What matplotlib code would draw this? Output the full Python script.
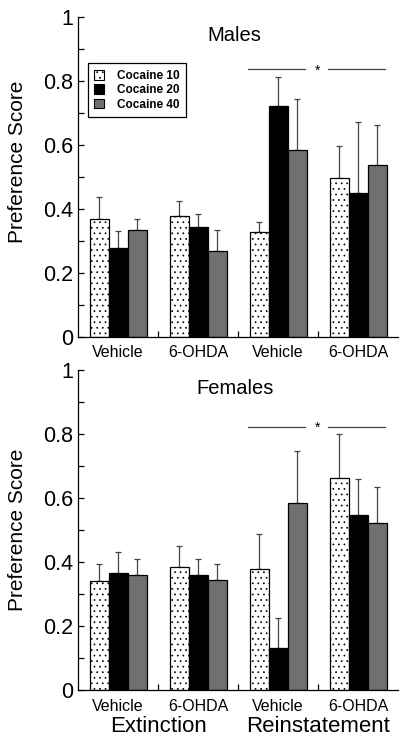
import numpy as np
import matplotlib
matplotlib.use('Agg')
import matplotlib.pyplot as plt
from matplotlib.patches import Patch

plt.rcParams['font.family'] = ['Liberation Sans', 'DejaVu Sans']
plt.rcParams['hatch.linewidth'] = 0.5
plt.rcParams['hatch.color'] = '#555555'

groups = ['Vehicle', '6-OHDA', 'Vehicle', '6-OHDA']
series = ['Cocaine 10', 'Cocaine 20', 'Cocaine 40']

# males: mean and top of error bar
males_c10 = [0.37, 0.377, 0.329, 0.498]
males_c20 = [0.279, 0.344, 0.721, 0.45]
males_c40 = [0.333, 0.269, 0.585, 0.536]
males_c10_top = [0.438, 0.424, 0.359, 0.597]
males_c20_top = [0.33, 0.385, 0.812, 0.672]
males_c40_top = [0.37, 0.333, 0.744, 0.661]

# females
females_c10 = [0.34, 0.385, 0.378, 0.663]
females_c20 = [0.367, 0.358, 0.132, 0.548]
females_c40 = [0.358, 0.344, 0.586, 0.521]
females_c10_top = [0.394, 0.45, 0.488, 0.799]
females_c20_top = [0.431, 0.411, 0.224, 0.659]
females_c40_top = [0.411, 0.393, 0.746, 0.633]

phases = ['Extinction', 'Reinstatement']

gray = '#707070'
styles = [dict(color='white', hatch='...'),
          dict(color='black'),
          dict(color=gray)]


def panel(ax, means, tops, title, sig_y, label_y):
    x = np.arange(len(groups))
    w = 0.2375
    for i, (m, t) in enumerate(zip(means, tops)):
        pos = x + (i - 1) * w
        m = np.array(m)
        t = np.array(t)
        ax.bar(pos, m, w, edgecolor='black', linewidth=0.9, zorder=2, **styles[i])
        ax.errorbar(pos, t, yerr=[t - m, np.zeros_like(t)], fmt='none',
                    ecolor='#444444', elinewidth=0.9, capsize=2.2,
                    capthick=0.9, zorder=1)
    ax.set_xlim(-0.5, 3.5)
    ax.set_ylim(0, 1)
    ax.set_yticks([0, 0.2, 0.4, 0.6, 0.8, 1])
    ax.set_yticklabels(['0', '0.2', '0.4', '0.6', '0.8', '1'])
    ax.set_yticks(np.arange(0.1, 1.0, 0.2), minor=True)
    ax.tick_params(axis='y', which='both', direction='in', length=4,
                   labelsize=15.5, width=0.9)
    ax.set_xticks([0.5, 1.5, 2.5])
    ax.set_xticklabels([])
    ax.tick_params(axis='x', direction='in', length=4, width=0.9)
    for gx, g in zip(x, groups):
        ax.text(gx, -0.05, g, ha='center', va='center', fontsize=11.5,
                transform=ax.get_xaxis_transform())
    ax.spines['top'].set_visible(False)
    ax.spines['right'].set_visible(False)
    ax.spines['left'].set_linewidth(0.9)
    ax.spines['bottom'].set_linewidth(0.9)
    ax.set_ylabel('Preference Score', fontsize=15, va='center')
    ax.yaxis.set_label_coords(-0.19, label_y)
    ax.text(1.46, 0.943, title, ha='center', va='center', fontsize=14.5)
    # significance bar
    ax.plot([1.625, 2.34], [sig_y, sig_y], color='#444444', lw=0.9)
    ax.plot([2.63, 3.34], [sig_y, sig_y], color='#444444', lw=0.9)
    ax.text(2.49, sig_y - 0.005, '*', ha='center', va='center', fontsize=10)


fig = plt.figure(figsize=(4, 7.38), dpi=100)
ax1 = fig.add_axes([0.195, 0.5434, 0.8, 0.4336])
ax2 = fig.add_axes([0.195, 0.065, 0.8, 0.4336])

panel(ax1, [males_c10, males_c20, males_c40],
      [males_c10_top, males_c20_top, males_c40_top], 'Males', 0.838, 0.547)
panel(ax2, [females_c10, females_c20, females_c40],
      [females_c10_top, females_c20_top, females_c40_top], 'Females', 0.823,
      0.5)

handles = [Patch(facecolor='white', edgecolor='black', hatch='...', lw=0.8),
           Patch(facecolor='black', edgecolor='black', lw=0.8),
           Patch(facecolor=gray, edgecolor='black', lw=0.8)]
leg = ax1.legend(handles, series, loc='upper left',
                 bbox_to_anchor=(0.03, 0.855),
                 prop={'weight': 'bold', 'size': 8.5},
                 handlelength=0.8, handleheight=0.9, handletextpad=1.1,
                 labelspacing=0.2, borderpad=0.55, borderaxespad=0,
                 fancybox=False, framealpha=1, edgecolor='black')
leg.get_frame().set_linewidth(0.9)

for i, ph in enumerate(phases):
    ax2.text(0.5 + 2 * i, -0.115, ph, ha='center', va='center', fontsize=16,
             transform=ax2.get_xaxis_transform())

fig.savefig('out.png', dpi=100)
